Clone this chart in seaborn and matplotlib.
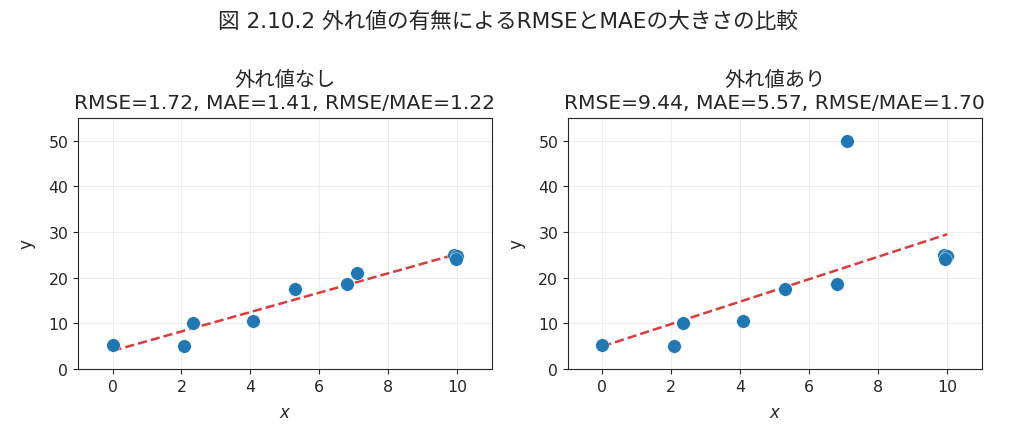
import numpy as np
import pandas as pd
import matplotlib
matplotlib.use("Agg")
import matplotlib.pyplot as plt
import seaborn as sns

sns.set_style("ticks")
plt.rcParams['font.family'] = ['DejaVu Sans', 'Noto Sans CJK JP']

x_vals = [0.0, 2.08, 2.33, 4.08, 5.30, 6.80, 7.10, 9.90, 10.0, 9.95]
y_clean = [5.2, 5.1, 10.1, 10.6, 17.5, 18.6, 21.1, 25.0, 24.7, 24.1]
y_outlier = [5.2, 5.1, 10.1, 10.6, 17.5, 18.6, 50.0, 25.0, 24.7, 24.1]

suptitle = "図 2.10.2 外れ値の有無によるRMSEとMAEの大きさの比較"
panel_titles = ["外れ値なし\nRMSE=1.72, MAE=1.41, RMSE/MAE=1.22",
                "外れ値あり\nRMSE=9.44, MAE=5.57, RMSE/MAE=1.70"]
x_ticks = [0, 2, 4, 6, 8, 10]
y_ticks = [0, 10, 20, 30, 40, 50]

fig = plt.figure(figsize=(10.16, 4.31), dpi=100)
axes = [fig.add_axes([0.0768, 0.1415, 0.4072, 0.5825]),
        fig.add_axes([0.559, 0.1415, 0.4072, 0.5825])]

for ax, ys, title in zip(axes, [y_clean, y_outlier], panel_titles):
    df = pd.DataFrame({"x": x_vals, "y": ys})
    coef = np.polyfit(df["x"], df["y"], 1)
    xl = np.array([min(x_vals), max(x_vals)])
    ax.plot(xl, np.polyval(coef, xl), linestyle="--", color="#d62728",
            linewidth=1.8, alpha=0.9, zorder=1)
    sns.scatterplot(data=df, x="x", y="y", ax=ax, s=95, color="#1f77b4",
                    edgecolor="white", linewidth=0.3, zorder=3)
    ax.set_xlim(-1, 11)
    ax.set_ylim(0, 55)
    ax.set_xticks(x_ticks)
    ax.set_yticks(y_ticks)
    ax.grid(True, alpha=0.35)
    ax.set_axisbelow(True)
    ax.set_xlabel("$x$", fontsize=12, labelpad=7)
    ax.set_ylabel("y", fontsize=12, labelpad=9)
    ax.tick_params(labelsize=11.3)
    ax.set_title(title, fontsize=14.6, linespacing=1.25, pad=7)

fig.suptitle(suptitle, fontsize=15.6, y=0.972)
fig.savefig("out.png", dpi=100)
